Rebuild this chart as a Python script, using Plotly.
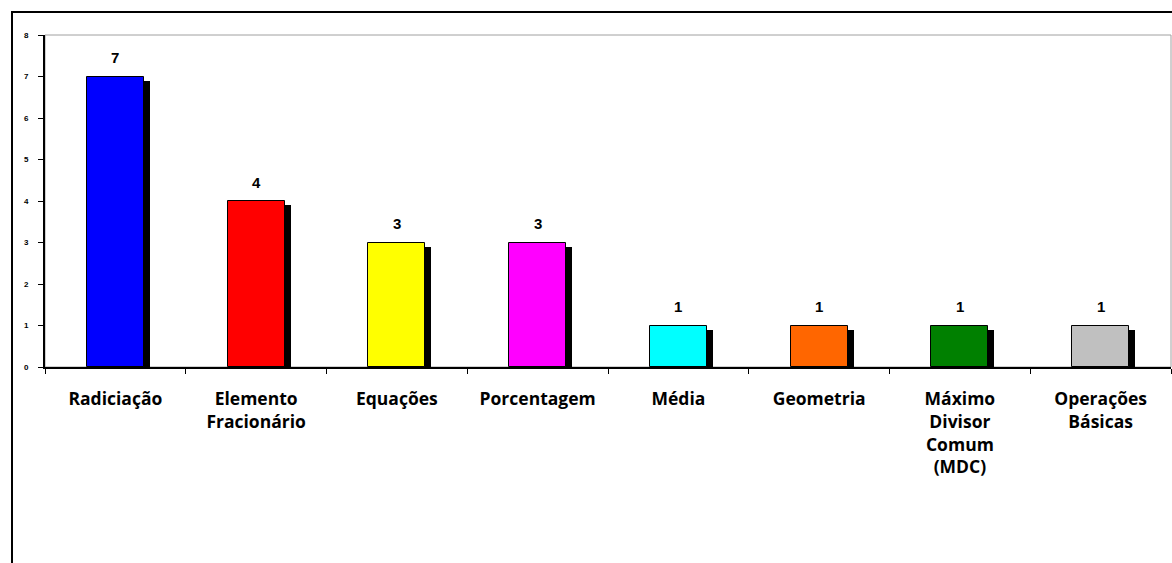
import plotly.graph_objects as go

categories = ["Radiciação", "Elemento<br>Fracionário", "Equações", "Porcentagem",
              "Média", "Geometria", "Máximo<br>Divisor<br>Comum<br>(MDC)", "Operações<br>Básicas"]
values = [7, 4, 3, 3, 1, 1, 1, 1]
colors = ["#0000FF", "#FF0000", "#FFFF00", "#FF00FF", "#00FFFF", "#FF6600", "#008000", "#C0C0C0"]
y_ticks = [0, 1, 2, 3, 4, 5, 6, 7, 8]

W, H = 1172, 563
L, R, T, B = 45, 1, 35, 196
pw, ph = W - L - R, H - T - B
bar_w = 0.405
sx = 6 / (pw / len(categories))   # shadow x offset in category units
sy = 4 / (ph / 8)                 # shadow y offset in data units

fig = go.Figure()
# shadows
fig.add_trace(go.Bar(
    x=categories, y=[v - sy + 0.03 for v in values], base=-0.03,
    width=bar_w, offset=-bar_w / 2 + sx,
    marker=dict(color="black", line=dict(width=0)),
    hoverinfo="skip", showlegend=False, cliponaxis=False,
))
# bars
fig.add_trace(go.Bar(
    x=categories, y=values, width=bar_w, offset=-bar_w / 2,
    marker=dict(color=colors, line=dict(color="black", width=1)),
    showlegend=False,
))

for c, v in zip(categories, values):
    fig.add_annotation(x=c, y=v, text="<b>" + str(v) + "</b>", showarrow=False, yshift=19,
                       font=dict(family="Liberation Sans, Arial", size=15, color="black"),
                       xanchor="center", yanchor="middle")

# plot area border (gray)
fig.add_shape(type="rect", xref="paper", yref="paper", x0=0, x1=1, y0=0, y1=1,
              line=dict(color="#A0A0A0", width=1), layer="below")
# outer chart border
fig.add_shape(type="rect", xref="paper", yref="paper",
              x0=(12 - L) / pw, x1=(W + 10 - L) / pw,
              y0=-(B + 10) / ph, y1=1 + (T - 12) / ph,
              line=dict(color="black", width=2), layer="below")

fig.update_layout(
    width=W, height=H,
    margin=dict(l=L, r=R, t=T, b=B),
    paper_bgcolor="white", plot_bgcolor="white",
    barmode="overlay", bargap=0,
    showlegend=False,
)
fig.update_xaxes(
    type="category", tickson="boundaries", ticks="outside", ticklen=5,
    tickcolor="black", tickwidth=1,
    showline=True, linecolor="black", linewidth=2,
    showgrid=False, zeroline=False,
    tickfont=dict(family="Open Sans", size=17.5, color="black", weight="bold"),
    ticklabelstandoff=15,
    range=[-0.5, len(categories) - 0.5],
)
fig.update_yaxes(
    range=[0, 8], tickvals=y_ticks, ticktext=[str(t) for t in y_ticks],
    ticks="outside", ticklen=5, tickcolor="black", tickwidth=1,
    showline=True, linecolor="black", linewidth=2,
    showgrid=False, zeroline=False,
    tickfont=dict(family="Liberation Sans, Arial", size=8, color="black", weight="bold"),
    ticklabelstandoff=8,
)

fig.write_html("out.html")
